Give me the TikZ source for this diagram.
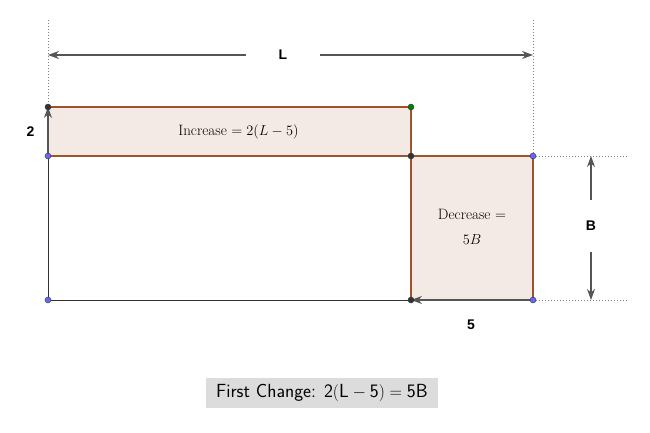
\documentclass[tikz,border=0pt]{standalone}
\usepackage{fontspec}
\usepackage{amsmath}
\newfontfamily\labelfont{Liberation Sans}
\usetikzlibrary{arrows.meta,positioning}
\definecolor{areafill}{RGB}{244,234,229}
\definecolor{areaedge}{RGB}{160,82,45}
\definecolor{linegray}{RGB}{51,51,51}
\definecolor{dimgray}{RGB}{85,85,85}
\definecolor{ptblue}{RGB}{102,102,255}
\definecolor{ptgreen}{RGB}{0,128,0}
\definecolor{boxgray}{RGB}{220,220,220}

\begin{document}
\begin{tikzpicture}[x=1pt,y=-1pt]
		\newcommand\lenl{363pt}
		\newcommand\lenf{122pt}
		\newcommand\hinc{49pt}
		\newcommand\hb{144pt}
		\newcommand\dotx{94pt}
		\newcommand\topy{87pt}
		\tikzset{
		every node/.style = {font=\fontsize{15}{17}\selectfont},
		edge/.style = {line width=1.5pt, areaedge},
		plain/.style = {line width=1pt, linegray},
		guide/.style = {line width=1pt, gray, dotted},
		dimarrow/.style = {line width=1.1pt, dimgray, -{Stealth[length=11pt, width=8pt]}},
		dimlabel/.style = {font=\labelfont\bfseries\fontsize{14}{16}\selectfont},
		pt/.style = {circle, draw=linegray, line width=0.4pt, inner sep=0pt, minimum size=6pt},
	}
	\useasboundingbox (0,0) rectangle (650,433);
	% corners of the rectangles
	\coordinate (a) at (48,156);
	\coordinate [above=\hinc of a] (b);
	\coordinate [right=\lenl of b] (c);
	\coordinate [right=\lenl of a] (d);
	\coordinate [right=\lenf of d] (e);
	\coordinate [below=\hb of a] (f);
	\coordinate [below=\hb of d] (g);
	\coordinate [below=\hb of e] (h);
	% ends of the guides
	\coordinate [above=\topy of b] (t1);
	\coordinate (t2) at (t1 -| e);
	\coordinate [right=\dotx of e] (e1);
	\coordinate [right=\dotx of h] (h1);
	\coordinate (la) at (48,55);
	\coordinate (lb) at (la -| e);
	\coordinate (ba) at (591,156);
	\coordinate (bb) at (ba |- h);

	% shaded areas
	\fill [areafill] (b) rectangle (d);
	\fill [areafill] (d) rectangle (h);
	\draw [plain] (a) -- (f) -- (g);
	\draw [edge] (a) -- (b) -- (c) -- (d) -- (a);
	\draw [edge] (d) -- (e) -- (h) -- (g) -- (d);
	% guides
	\draw [guide] (t1) -- (b);
	\draw [guide] (t2) -- (e);
	\draw [guide] (e) -- (e1);
	\draw [guide] (h) -- (h1);

	% dimensions
	\node [dimlabel, inner xsep=33pt] (lenL) at (283,55) {L};
	\draw [dimarrow] (lenL) -- (la);
	\draw [dimarrow] (lenL) -- (lb);
	\node [dimlabel, inner ysep=21pt] (lenB) at (591,226) {B};
	\draw [dimarrow] (lenB) -- (ba);
	\draw [dimarrow] (lenB) -- (bb);
	\draw [dimarrow] (a) -- (b);
	\draw [dimarrow] (h) -- (g);
	\node [dimlabel, left=10pt of a, yshift=24.5pt] (two) {2};
	\node [dimlabel, below=16pt of g, xshift=60pt] (five) {5};

	% area texts
	\path (b) -- node [xshift=9pt] (inc) {Increase $= 2(L-5)$} (d);
	\path (d) -- node [align=center, yshift=1pt] (dec) {Decrease $=$\\[8pt]$5B$} (h);

	% points
	\node [pt, fill=linegray] (pb) at (b) {};
	\node [pt, fill=ptgreen] (pc) at (c) {};
	\node [pt, fill=ptblue] (pa) at (a) {};
	\node [pt, fill=linegray] (pd) at (d) {};
	\node [pt, fill=ptblue] (pe) at (e) {};
	\node [pt, fill=ptblue] (pf) at (f) {};
	\node [pt, fill=linegray] (pg) at (g) {};
	\node [pt, fill=ptblue] (ph) at (h) {};

	% caption
	\node [fill=boxgray, minimum width=232pt, minimum height=30pt, inner sep=2pt, font=\sffamily\fontsize{19}{21}\selectfont] (change) at (322,393) {First Change: $\mathsf{2(L-5)=5B}$};
\end{tikzpicture}
\end{document}
